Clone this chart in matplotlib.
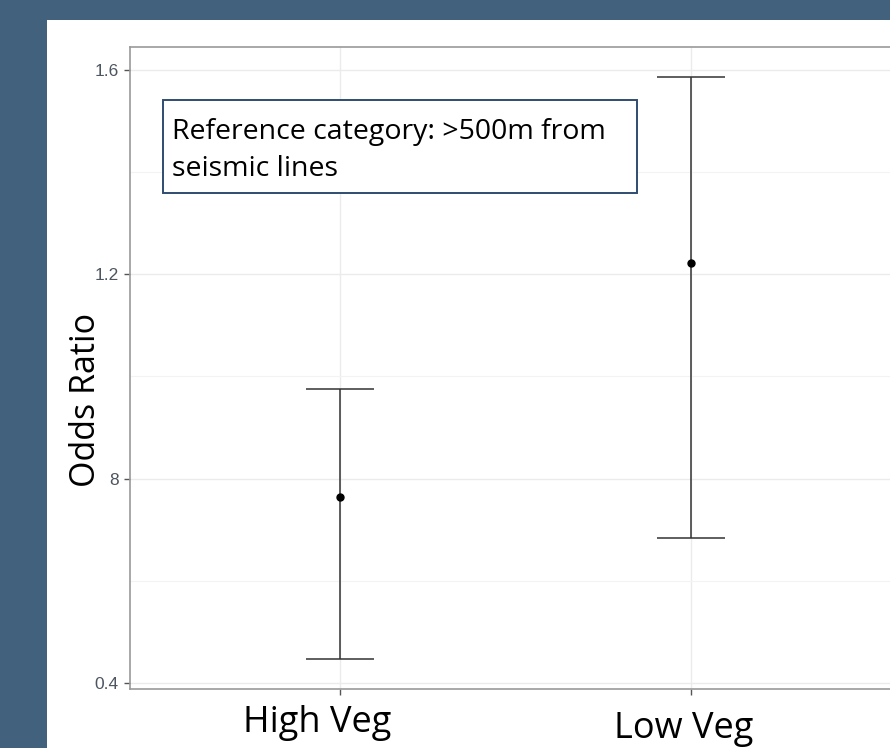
import matplotlib.pyplot as plt
from matplotlib.patches import Rectangle

# data
groups = ['High Veg', 'Low Veg']
odds = [0.763, 1.222]
lower = [0.446, 0.684]
upper = [0.976, 1.586]
ytick_vals = [0.4, 0.8, 1.2, 1.6]
ytick_labels = ['0.4', '8', '1.2', '1.6']
note = 'Reference category: >500m from\nseismic lines'


def OddsPlot():
    fig = plt.figure(figsize=(8.9, 7.48), dpi=100)
    fig.patch.set_facecolor('#42617d')

    # white slide panel, kept under the axes
    fig.patches.append(Rectangle((47 / 890, 0), 1, 1 - 20 / 748,
                                 transform=fig.transFigure, facecolor='white',
                                 edgecolor='none', zorder=-10))

    ax = fig.add_axes([130 / 890, 59 / 748, 771 / 890, 642 / 748])
    ax.set_facecolor('white')

    x = list(range(1, len(groups) + 1))
    err_lo = [o - l for o, l in zip(odds, lower)]
    err_hi = [u - o for o, u in zip(odds, upper)]
    ax.errorbar(x, odds, yerr=[err_lo, err_hi], fmt='none', ecolor='#333333',
                elinewidth=1.1, capsize=34 * 0.72, capthick=1.1, zorder=3)
    ax.plot(x, odds, 'o', color='black', markersize=5, zorder=4)

    ax.set_xlim(0.4, 2.6)
    ax.set_ylim(0.388, 1.645)
    ax.set_xticks(x)
    ax.set_xticklabels([''] * len(groups))
    # the slide's category labels sit a little off their ticks
    for xi, g, dx, dy in zip(x, groups, [-23, -7], [-16, -22]):
        ax.annotate(g, xy=(xi, 0), xycoords=('data', 'axes fraction'),
                    xytext=(dx, dy), textcoords='offset pixels',
                    ha='center', va='top', fontfamily='Open Sans', fontsize=26,
                    color='black', annotation_clip=False)
    ax.set_yticks(ytick_vals)
    ax.set_yticklabels(ytick_labels, fontfamily='Liberation Sans', fontsize=12.5,
                       color='#4d5560')
    ax.set_yticks([0.6, 1.0, 1.4], minor=True)
    ax.tick_params(axis='y', which='minor', length=0)
    ax.tick_params(axis='both', which='major', length=4, width=1, color='#555555')
    ax.tick_params(axis='y', pad=4)

    ax.grid(True, which='major', color='#ebebeb', linewidth=1)
    ax.grid(True, which='minor', axis='y', color='#f3f3f3', linewidth=0.8)
    ax.set_axisbelow(True)
    for s in ax.spines.values():
        s.set_color('#999999')
        s.set_linewidth(1.2)

    ax.set_ylabel('Odds Ratio', fontfamily='Open Sans', fontsize=24.5, va='center')
    ax.yaxis.set_label_coords((86 - 130) / 771, (689 - 400) / 642)

    # reference-category note box
    ax.add_patch(Rectangle((0.494, 1.359), 1.846 - 0.494, 1.541 - 1.359,
                           facecolor='white', edgecolor='#2f4d70', linewidth=1.4,
                           zorder=5))
    ax.text(0.52, 1.443, note, fontfamily='Open Sans', fontsize=20.5,
            va='center', ha='left', linespacing=1.42, zorder=6)

    plt.savefig('out.png', dpi=100, facecolor=fig.get_facecolor())


def main():
    OddsPlot()


if __name__ == "__main__":
    main()
